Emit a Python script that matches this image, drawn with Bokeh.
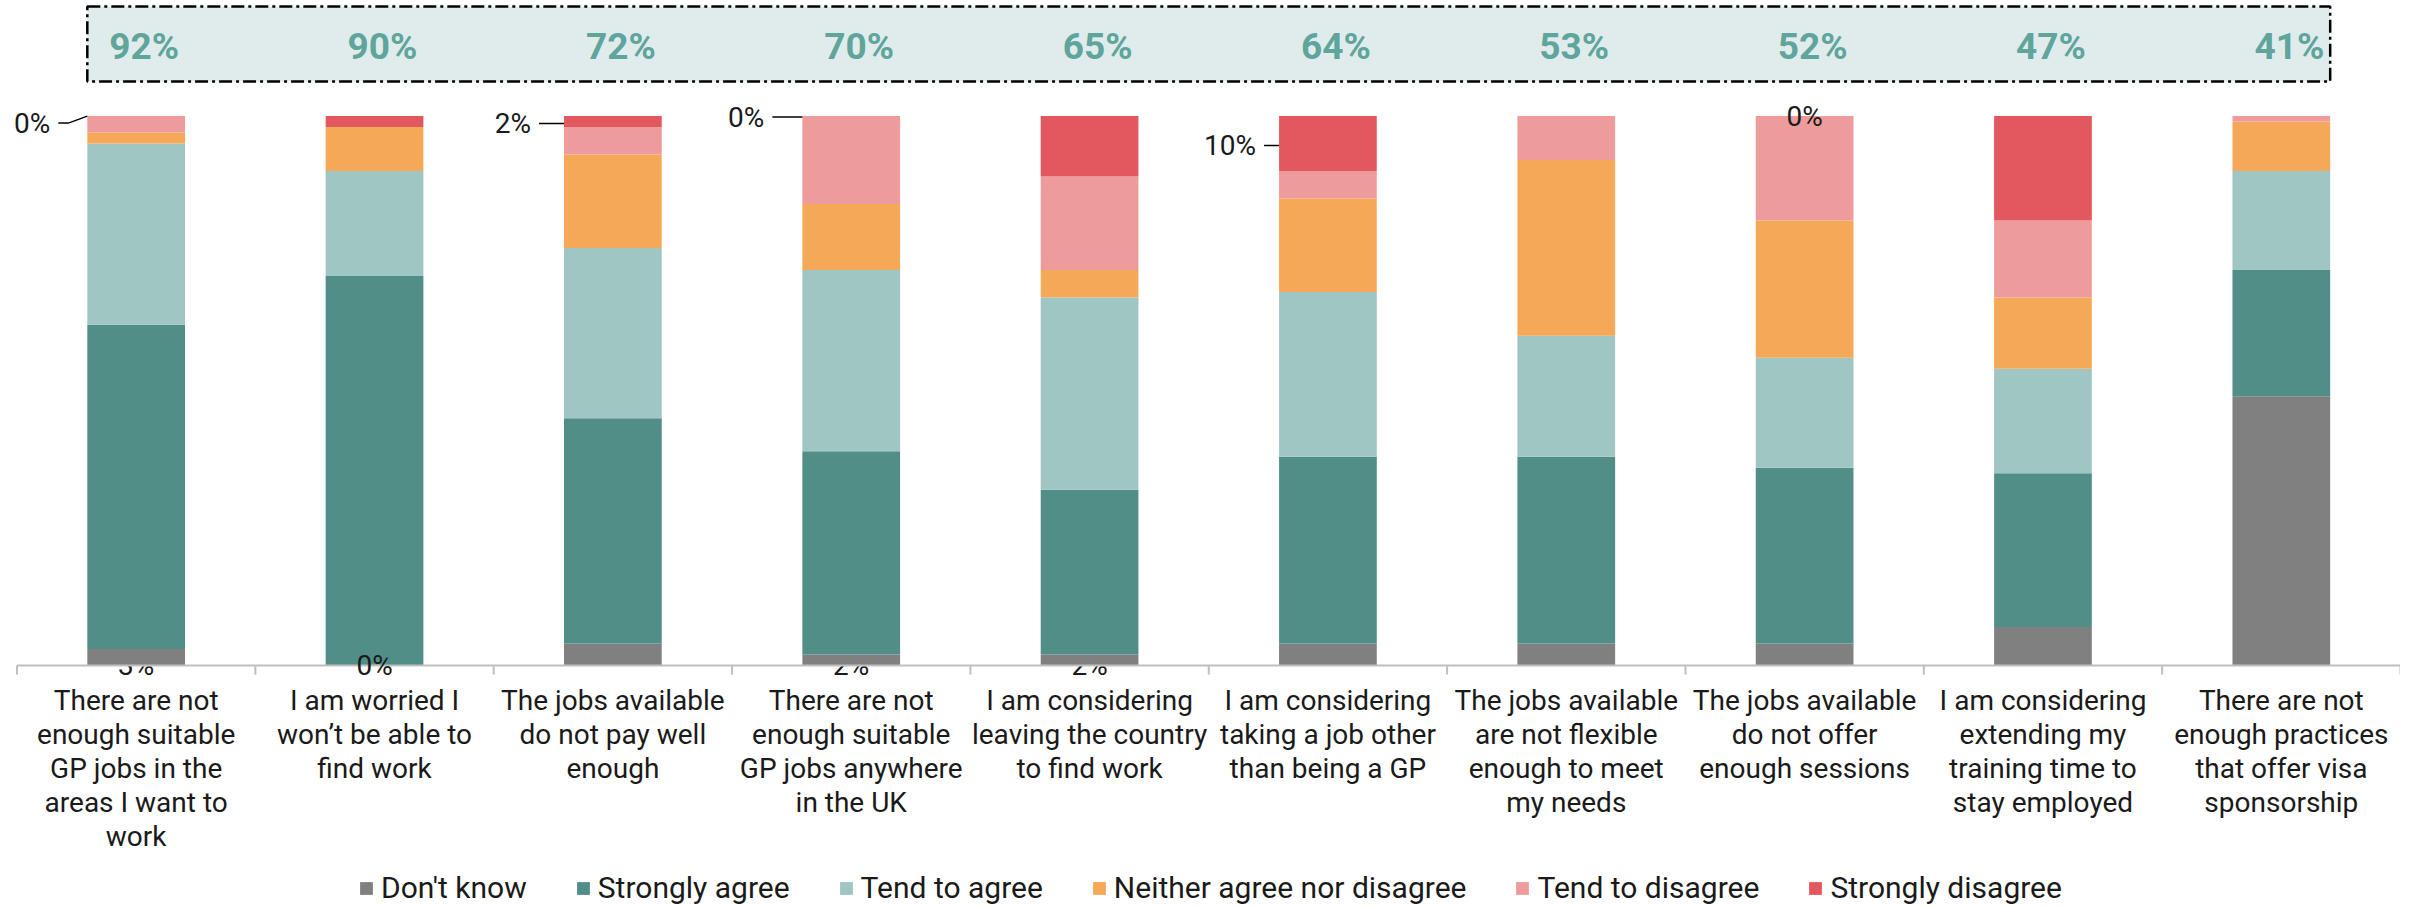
from bokeh.plotting import figure
from bokeh.models import ColumnDataSource, BoxAnnotation, Legend, LegendItem, Range1d
from bokeh.core.properties import value
from bokeh.embed import file_html
from bokeh.resources import INLINE

# ---------------- data ----------------
statements = [
    "There are not\nenough suitable\nGP jobs in the\nareas I want to\nwork",
    "I am worried I\nwon\u2019t be able to\nfind work",
    "The jobs available\ndo not pay well\nenough",
    "There are not\nenough suitable\nGP jobs anywhere\nin the UK",
    "I am considering\nleaving the country\nto find work",
    "I am considering\ntaking a job other\nthan being a GP",
    "The jobs available\nare not flexible\nenough to meet\nmy needs",
    "The jobs available\ndo not offer\nenough sessions",
    "I am considering\nextending my\ntraining time to\nstay employed",
    "There are not\nenough practices\nthat offer visa\nsponsorship",
]
dont_know         = [3, 0, 4, 2, 2, 4, 4, 4, 7, 49]
strongly_agree    = [59, 71, 41, 37, 30, 34, 34, 32, 28, 23]
tend_to_agree     = [33, 19, 31, 33, 35, 30, 22, 20, 19, 18]
neither           = [2, 8, 17, 12, 5, 17, 32, 25, 13, 9]
tend_to_disagree  = [3, 0, 5, 16, 17, 5, 8, 19, 14, 1]
strongly_disagree = [0, 2, 2, 0, 11, 10, 0, 0, 19, 0]
net_agree         = [92, 90, 72, 70, 65, 64, 53, 52, 47, 41]

series_names = ["Don't know", "Strongly agree", "Tend to agree",
                "Neither agree nor disagree", "Tend to disagree", "Strongly disagree"]
series_cols = ["dk", "sa", "ta", "ne", "td", "sd"]
series_colors = ["#808080", "#518e88", "#9fc6c2", "#f5a958", "#ee9b9c", "#e3585e"]

# ---------------- layout constants ----------------
W, H = 2400, 905
PX_X = 238.35      # px per category
PX_Y = 5.494       # px per percentage point
X0 = 16.5          # canvas x of first category boundary
Y0 = 665.0         # canvas y of the 0 % baseline
BAR_W = 0.41
FONT = "Roboto"
TXT = "#1a1a1a"

def ydata(cy):
    return (Y0 - cy) / PX_Y

p = figure(width=W, height=H,
           x_range=Range1d(-X0 / PX_X, (W - X0) / PX_X),
           y_range=Range1d(-(H - Y0) / PX_Y, Y0 / PX_Y),
           output_backend="svg", toolbar_location=None,
           x_axis_location=None, y_axis_location=None, min_border=0)
p.grid.visible = False
p.outline_line_color = None
p.background_fill_color = "white"
p.border_fill_color = "white"

n = len(statements)
xc = [i + 0.5 for i in range(n)]
src = ColumnDataSource(dict(x=xc, dk=dont_know, sa=strongly_agree, ta=tend_to_agree,
                            ne=neither, td=tend_to_disagree, sd=strongly_disagree))

# labels of "Don't know" that sit under the bars (partly covered)
hid = [i for i in range(n) if 0 < dont_know[i] <= 3]
p.text(x=[xc[i] for i in hid], y=[0] * len(hid), text=[f"{dont_know[i]}%" for i in hid],
       text_font=value(FONT), text_font_size="28px", text_color=TXT,
       text_align="center", text_baseline="middle")

# banner with net agree values
banner = BoxAnnotation(left=0.5 - BAR_W / 2, right=n - 0.5 + BAR_W / 2,
                       top=ydata(6), bottom=ydata(81),
                       fill_color="#e0ecec", fill_alpha=1.0,
                       line_color="black", line_alpha=1.0, line_width=2.5,
                       line_dash="13 4 3 4", level="underlay")
p.add_layout(banner)
p.text(x=[x + 8 / PX_X for x in xc], y=[ydata(46)] * n, text=[f"{v}%" for v in net_agree],
       text_font=value(FONT), text_font_style="bold", text_font_size="37px",
       text_color="#5fa59c", text_align="center", text_baseline="middle")

# stacked bars
rends = p.vbar_stack(series_cols, x="x", width=BAR_W, source=src,
                     color=series_colors, line_color=None)

# axis line and ticks
p.segment(x0=[0], x1=[n], y0=[0], y1=[0], line_color="#bfbfbf", line_width=2)
bounds = list(range(n + 1))
p.segment(x0=bounds, x1=bounds, y0=[0] * len(bounds), y1=[-9 / PX_Y] * len(bounds),
          line_color="#bfbfbf", line_width=2)

# zero "Don't know" labels drawn on top
zdk = [i for i in range(n) if dont_know[i] == 0]
p.text(x=[xc[i] for i in zdk], y=[0] * len(zdk), text=[f"{dont_know[i]}%" for i in zdk],
       text_font=value(FONT), text_font_size="28px", text_color=TXT,
       text_align="center", text_baseline="middle")

# strongly disagree labels with leader lines (bar index, text dx px, text dy px)
leader_specs = [(0, -37, 7), (2, -33, 2), (3, -38, 1), (5, -23, 2)]
lx, ly, lt, mxs, mys = [], [], [], [], []
for i, dx, dy in leader_specs:
    left = xc[i] - BAR_W / 2
    top = dont_know[i] + strongly_agree[i] + tend_to_agree[i] + neither[i] + tend_to_disagree[i]
    yc = top + strongly_disagree[i] / 2
    ty = yc - dy / PX_Y
    lx.append(left + dx / PX_X); ly.append(ty); lt.append(f"{strongly_disagree[i]}%")
    if i == 0:
        mxs.append([left + (dx + 8) / PX_X, left + (dx + 18) / PX_X, left])
        mys.append([ty, ty, yc])
    else:
        mxs.append([left + (dx + 8) / PX_X, left])
        mys.append([ty, ty])
p.multi_line(xs=mxs, ys=mys, line_color="black", line_width=1.5)
p.text(x=lx, y=ly, text=lt, text_font=value(FONT), text_font_size="28px",
       text_color=TXT, text_align="right", text_baseline="middle")

# zero strongly-disagree label centred on top of bar 8
p.text(x=[xc[7]], y=[100], text=[f"{strongly_disagree[7]}%"], text_font=value(FONT),
       text_font_size="28px", text_color=TXT, text_align="center", text_baseline="middle")

# category labels, one line at a time
cx, cy, ct = [], [], []
for i, s in enumerate(statements):
    for k, line in enumerate(s.split("\n")):
        cx.append(xc[i]); cy.append(ydata(700 + 34 * k)); ct.append(line)
p.text(x=cx, y=cy, text=ct, text_font=value(FONT), text_font_size="28px",
       text_color=TXT, text_align="center", text_baseline="middle")

# legend
legend = Legend(items=[LegendItem(label=nm, renderers=[r]) for nm, r in zip(series_names, rends)],
                orientation="horizontal", location=(358, 0),
                glyph_width=16, glyph_height=16, label_standoff=7, spacing=48,
                padding=0, margin=0, border_line_color=None, background_fill_alpha=0,
                label_text_font=FONT, label_text_font_size="30px", label_text_color=TXT)
p.add_layout(legend)

open("out.html", "w").write(file_html(p, INLINE))
